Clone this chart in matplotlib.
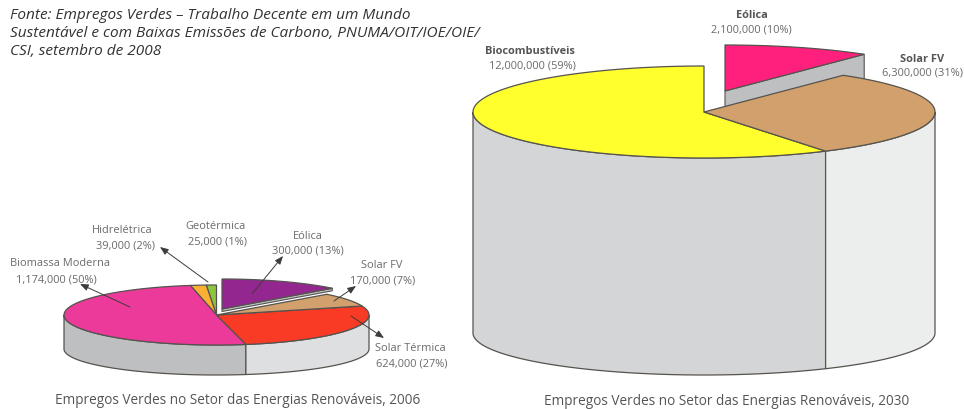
import numpy as np
import matplotlib
matplotlib.use("Agg")
import matplotlib.pyplot as plt
from matplotlib.patches import Polygon

FONT = "Open Sans"

# ---- data -----------------------------------------------------------------
names_2006 = ["Geotérmica", "Hidrelétrica", "Biomassa Moderna", "Solar Térmica", "Solar FV", "Eólica"]
jobs_2006 = [25000, 39000, 1174000, 624000, 170000, 300000]
pct_2006 = [1, 2, 50, 27, 7, 13]
colors_2006 = ["#8CC63F", "#FBB034", "#EC3A9B", "#F93A24", "#D2A06C", "#93278F"]

names_2030 = ["Biocombustíveis", "Solar FV", "Eólica"]
jobs_2030 = [12000000, 6300000, 2100000]
pct_2030 = [59, 31, 10]
colors_2030 = ["#FFFF2E", "#D2A06C", "#FF1F7D"]

caption_2006 = "Empregos Verdes no Setor das Energias Renováveis, 2006"
caption_2030 = "Empregos Verdes no Setor das Energias Renováveis, 2030"
source_lines = ["Fonte: Empregos Verdes – Trabalho Decente em um Mundo",
                "Sustentável e com Baixas Emissões de Carbono, PNUMA/OIT/IOE/OIE/",
                "CSI, setembro de 2008"]

EDGE = "#55534E"

fig = plt.figure(figsize=(9.64, 4.10), dpi=100, facecolor="white")
ax = fig.add_axes([0, 0, 1, 1])
ax.set_xlim(0, 964)
ax.set_ylim(410, 0)
ax.axis("off")


def rim(cx, cy, rx, ry, a0, a1, n=160):
    t = np.radians(np.linspace(a0, a1, n))
    return np.column_stack([cx + rx * np.cos(t), cy - ry * np.sin(t)])


def side_band(cx, cy, rx, ry, ry_low, depth, a0, a1, color, z):
    top = rim(cx, cy, rx, ry, a0, a1)
    low = rim(cx, cy + depth, rx, ry_low, a1, a0)
    ax.add_patch(Polygon(np.vstack([top, low]), closed=True, fc=color, ec=EDGE, lw=0.9, zorder=z))


def slices(values, start=90.0):
    v = np.asarray(values, float)
    edges = start + np.concatenate([[0], np.cumsum(v)]) / v.sum() * 360
    return list(zip(edges[:-1], edges[1:]))


def pie(values, colors, cx, cy, rx, ry, ry_low, depth, offset, face_depth, face, dark, light):
    """All slices but the last stay together; the last one is pulled out by offset."""
    sl = slices(values)
    a0, a1 = sl[-1]
    ox, oy = cx + offset[0], cy + offset[1]
    tip = rim(ox, oy, rx, ry, a0, a0, 1)[0]
    # cut face of the pulled-out slice
    ax.add_patch(Polygon([[ox, oy], tip, tip + [0, face_depth], [ox, oy + face_depth]],
                         closed=True, fc=face, ec=EDGE, lw=0.8, zorder=1))
    ax.add_patch(Polygon(np.vstack([[ox, oy], rim(ox, oy, rx, ry, a0, a1)]),
                         closed=True, fc=colors[-1], ec=EDGE, lw=0.9, zorder=2))
    # wall of the main body: split at the slice boundary in the lower right quadrant
    split = [e for _, e in sl[:-1] if 270 < e < 360][0]
    side_band(cx, cy, rx, ry, ry_low, depth, 180, split, dark, 3)
    side_band(cx, cy, rx, ry, ry_low, depth, split, 360, light, 3)
    for (b0, b1), c in zip(sl[:-1], colors[:-1]):
        ax.add_patch(Polygon(np.vstack([[cx, cy], rim(cx, cy, rx, ry, b0, b1)]),
                             closed=True, fc=c, ec=EDGE, lw=0.9, zorder=4))


pie(jobs_2006, colors_2006, 216.5, 316, 152.5, 30, 26, 34, (5.5, -6), 2.5, "#BDBFC1", "#BDBFC1", "#DEDFE0")
pie(jobs_2030, colors_2030, 704, 113, 231, 46, 42, 221, (21, -21), 221, "#BDBFC1", "#D3D5D6", "#ECEDED")


def label(x1, y1, x2, y2, name, jobs, pct, color="#6A6A6A", size=7.9, bold=False):
    ax.text(x1, y1, name, ha="center", va="center", fontsize=size, color="#555555" if bold else color,
            family=FONT, fontweight="bold" if bold else "normal", zorder=6)
    ax.text(x2, y2, f"{jobs:,} ({pct}%)", ha="center", va="center", fontsize=size, color=color,
            family=FONT, zorder=6)


pos_2006 = [(215, 227, 217, 242), (122, 231, 125, 246), (60, 264, 56, 280),
            (410, 349, 412, 364), (382, 266, 383, 281), (308, 237, 308, 251)]
for p, n, j, q in zip(pos_2006, names_2006, jobs_2006, pct_2006):
    label(*p, n, j, q)

pos_2030 = [(530, 51, 532, 66), (922, 59, 922, 73), (752, 16, 751, 30)]
for p, n, j, q in zip(pos_2030, names_2030, jobs_2030, pct_2030):
    label(*p, n, j, q, bold=True)

leaders = [((130, 308), (80, 285)), ((208, 283), (160, 248)), ((252, 295), (283, 257)),
           ((334, 302), (356, 287)), ((351, 317), (384, 339))]
for a, b in leaders:
    ax.annotate("", xy=b, xytext=a, zorder=7,
                arrowprops=dict(arrowstyle="-|>,head_width=0.2,head_length=0.5",
                                color="#3C3C3C", lw=0.7, shrinkA=0, shrinkB=0))

ax.text(238, 401, caption_2006, ha="center", va="center", fontsize=9.8, color="#555555", family=FONT)
ax.text(727, 402, caption_2030, ha="center", va="center", fontsize=9.8, color="#555555", family=FONT)
for y, s in zip([15.5, 33.5, 51.5], source_lines):
    ax.text(10, y, s, ha="left", va="center", fontsize=11.05, color="#333333", family=FONT, style="italic")

fig.savefig("out.png", dpi=100, facecolor="white")
